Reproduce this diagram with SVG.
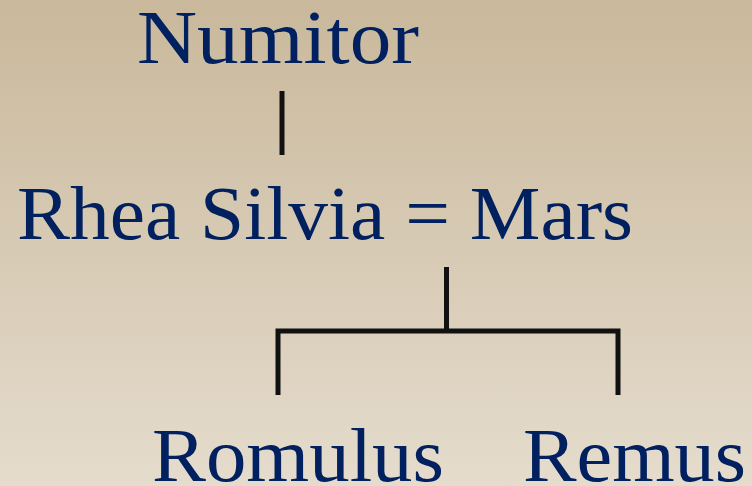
<svg xmlns="http://www.w3.org/2000/svg" width="752" height="486" viewBox="0 0 752 486">
<defs>
<linearGradient id="bg" x1="0" y1="0" x2="0" y2="1">
<stop offset="0" stop-color="#c9b89b"/>
<stop offset="1" stop-color="#e5dccd"/>
</linearGradient>
<style>
.t{font-family:"Liberation Serif","Times New Roman",serif;font-size:77px;fill:#002060;}
.c{stroke:#111;stroke-width:5;fill:none;stroke-linecap:butt;stroke-linejoin:miter;}
</style>
</defs>
<rect width="752" height="486" fill="url(#bg)"/>
<g id="connectors">
<line class="c" x1="282" y1="91" x2="282" y2="155"/>
<line class="c" x1="446.5" y1="267" x2="446.5" y2="331"/>
<path class="c" d="M278,395 V331 H618 V395"/>
</g>
<g id="numitor"><text class="t" x="137" y="63" textLength="282" lengthAdjust="spacingAndGlyphs">Numitor</text></g>
<g id="rhea-mars"><text class="t" x="17" y="239" textLength="616" lengthAdjust="spacingAndGlyphs">Rhea Silvia = Mars</text></g>
<g id="romulus"><text class="t" x="152" y="481" textLength="292" lengthAdjust="spacingAndGlyphs">Romulus</text></g>
<g id="remus"><text class="t" x="523" y="481" textLength="223" lengthAdjust="spacingAndGlyphs">Remus</text></g>
</svg>
